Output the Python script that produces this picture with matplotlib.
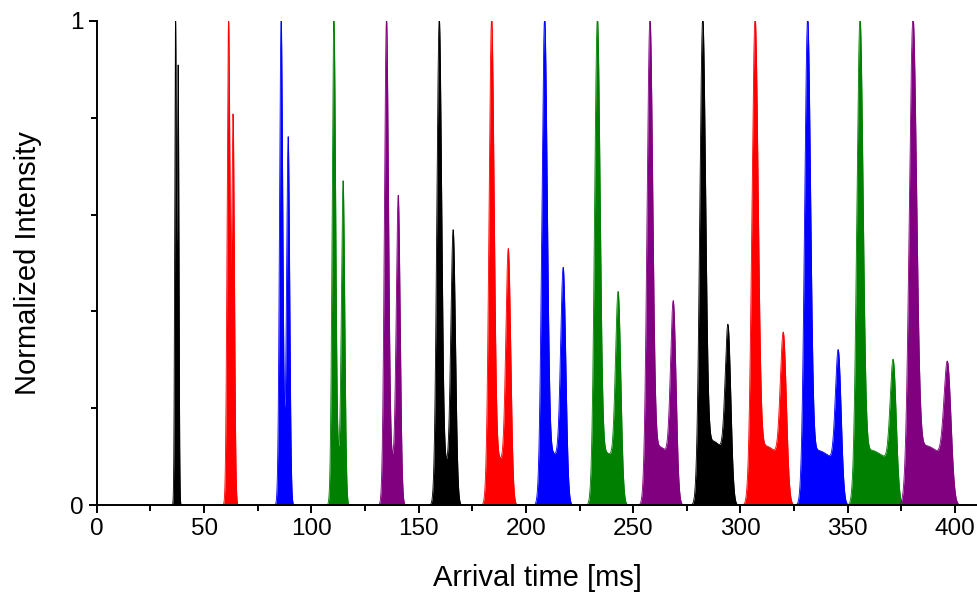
import numpy as np
import matplotlib.pyplot as plt

plt.rcParams['font.family'] = ['Liberation Sans', 'DejaVu Sans']

# peak data (one entry per group)
main_pos = [36.7, 61.4, 85.9, 110.5, 135.0, 159.6, 184.0, 208.7, 233.3, 257.8, 282.4, 306.8, 331.3, 355.7, 380.4]
second_pos = [37.9, 63.5, 89.2, 114.8, 140.5, 166.1, 191.8, 217.4, 243.0, 268.7, 294.2, 320.0, 345.6, 371.2, 396.5]
second_height = [0.90, 0.80, 0.75, 0.66, 0.63, 0.56, 0.52, 0.48, 0.43, 0.41, 0.36, 0.345, 0.31, 0.29, 0.285]
peak_width = [0.55, 0.95, 1.05, 1.15, 1.35, 1.6, 1.7, 1.8, 1.85, 1.9, 1.95, 2.1, 2.0, 2.1, 2.45]
plateau = [0.0, 0.0, 0.10, 0.09, 0.09, 0.08, 0.09, 0.10, 0.10, 0.11, 0.12, 0.11, 0.10, 0.10, 0.11]
colors = ['#000000', '#ff0000', '#0000ff', '#008000', '#800080'] * 3

x = np.arange(0, 411, 0.01)


def peak(x0, w):
    return np.exp(-((x - x0) / w) ** 2)


def step(x0, w):
    return 1 / (1 + np.exp(-(x - x0) / w))


fig = plt.figure(figsize=(9.78, 5.95), dpi=100)
ax = fig.add_axes([0.099, 0.151, 0.901, 0.814])

for i in range(len(main_pos)):
    w = peak_width[i]
    y = peak(main_pos[i], w) + second_height[i] * peak(second_pos[i], w * 0.95)
    # slowly falling shoulder between the two peaks
    slope = 1.3 - 0.4 * (x - main_pos[i]) / (second_pos[i] - main_pos[i])
    box = step(main_pos[i] + 1.2 * w, w * 0.4) * (1 - step(second_pos[i] - 0.7 * w, w * 0.35))
    y = y + plateau[i] * slope * box
    y = np.minimum(y, 1.0)
    lo = main_pos[i] - 3 * w
    hi = second_pos[i] + 3 * w
    m = (x > lo) & (x < hi)
    ax.fill_between(x[m], 0, y[m], color=colors[i], lw=0)
    ax.plot(x[m], y[m], color=colors[i], lw=0.6)

ax.set_xlim(0, 410.7)
ax.set_ylim(0, 1)
ax.spines['top'].set_visible(False)
ax.spines['right'].set_visible(False)
ax.spines['left'].set_linewidth(1.4)
ax.spines['bottom'].set_linewidth(1.4)

ax.set_xticks(np.arange(0, 401, 50))
ax.set_xticks(np.arange(25, 401, 50), minor=True)
ax.set_yticks([0, 1])
ax.set_yticklabels(['0', '1'])
ax.set_yticks([0.2, 0.4, 0.6, 0.8], minor=True)
ax.tick_params(which='major', direction='out', length=6, width=1.4, labelsize=17.5)
ax.tick_params(which='minor', direction='out', length=4, width=1.4)

ax.set_xlabel('Arrival time [ms]', fontsize=21, labelpad=17)
ax.set_ylabel('Normalized Intensity', fontsize=21, labelpad=20)

plt.savefig('out.png')
